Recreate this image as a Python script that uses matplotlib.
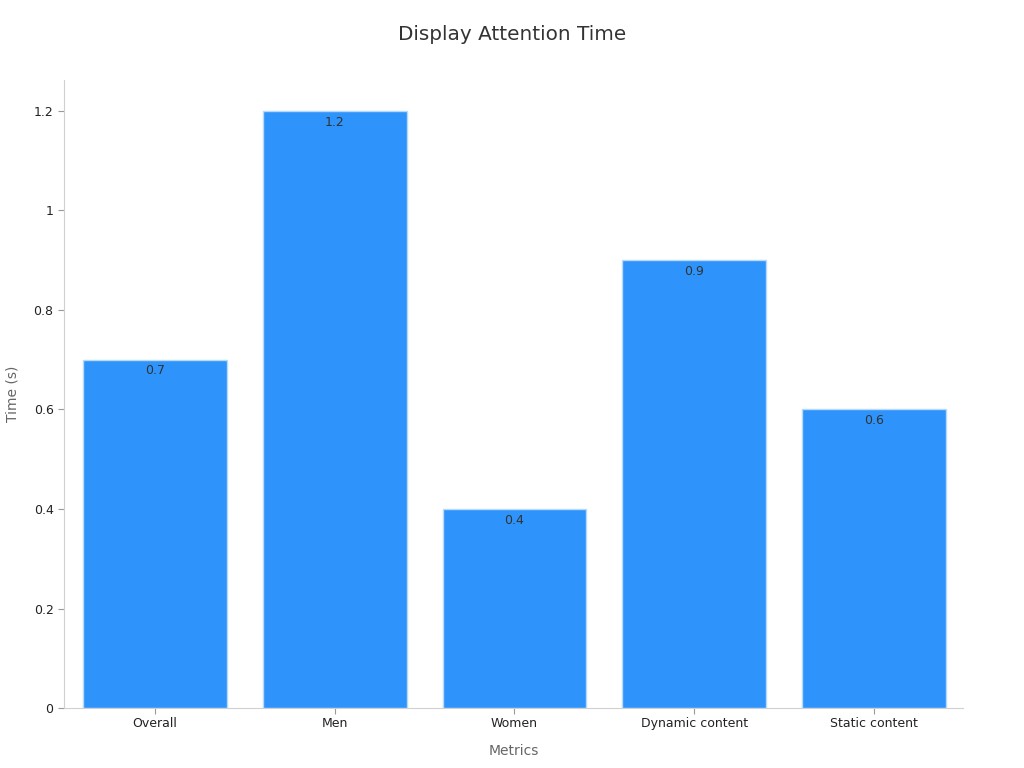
import matplotlib.pyplot as plt
from matplotlib.ticker import FuncFormatter

categories = ['Overall', 'Men', 'Women', 'Dynamic content', 'Static content']
times = [0.7, 1.2, 0.4, 0.9, 0.6]

fig = plt.figure(figsize=(10.24, 7.68), dpi=100)
ax = fig.add_axes([0.0625, 0.078, 0.878, 0.818])

bars = ax.bar(range(len(categories)), times, width=0.8, color='#2E93FA',
              edgecolor='#b5dafc', linewidth=1)

for b, v in zip(bars, times):
    ax.annotate(f'{v:g}', (b.get_x() + b.get_width() / 2, v),
                xytext=(0, -3.5), textcoords='offset points',
                ha='center', va='top', fontsize=9, color='#333333')

ax.set_xlim(-0.505, 4.495)
ax.set_ylim(0, 1.262)
ax.set_xticks(range(len(categories)))
ax.set_xticklabels(categories)
ax.set_yticks([0, 0.2, 0.4, 0.6, 0.8, 1.0, 1.2])
ax.yaxis.set_major_formatter(FuncFormatter(lambda v, p: f'{v:g}'))
ax.tick_params(labelsize=9, colors='#222222')
ax.tick_params(axis='both', color='#999999', length=4)
ax.tick_params(axis='x', pad=2.5)

for s in ['top', 'right']:
    ax.spines[s].set_visible(False)
for s in ['left', 'bottom']:
    ax.spines[s].set_color('#d0d0d0')

ax.set_xlabel('Metrics', fontsize=10, color='#666666', labelpad=10)
ax.set_ylabel('Time (s)', fontsize=10, color='#666666', labelpad=10)
fig.suptitle('Display Attention Time', fontsize=14.4, color='#333333', y=0.968)

fig.savefig('out.png', dpi=100)
